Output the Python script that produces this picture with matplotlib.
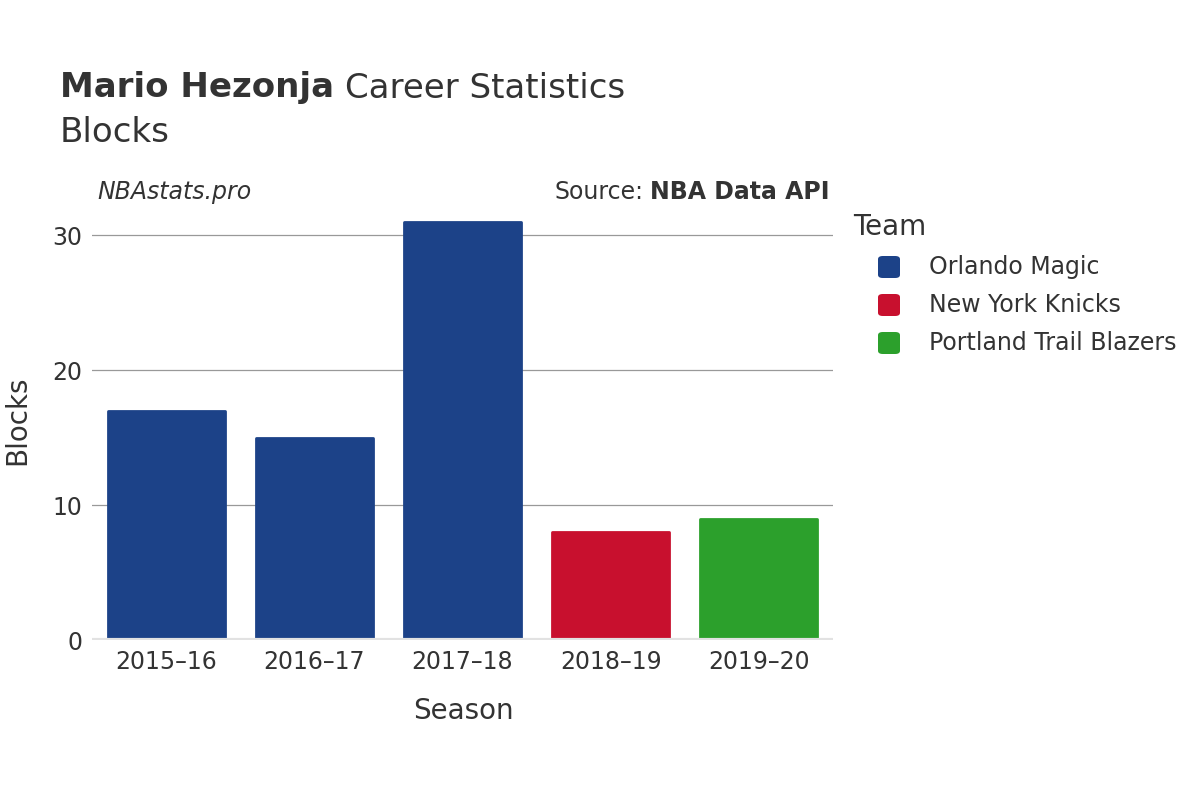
import matplotlib.pyplot as plt
from matplotlib.patches import FancyBboxPatch

seasons = ["2015\u201316", "2016\u201317", "2017\u201318", "2018\u201319", "2019\u201320"]
blocks = [17, 15, 31, 8, 9]
teams = ["Orlando Magic", "Orlando Magic", "Orlando Magic", "New York Knicks", "Portland Trail Blazers"]
team_order = ["Orlando Magic", "New York Knicks", "Portland Trail Blazers"]
team_colors = {"Orlando Magic": "#1C4288", "New York Knicks": "#C8102E",
               "Portland Trail Blazers": "#2CA02C"}

text_color = "#333333"
plt.rcParams['font.family'] = ['DejaVu Sans']

W, H = 1200, 800
fig = plt.figure(figsize=(12, 8), dpi=100)
ax = fig.add_axes([92 / W, 0.2, (833 - 92) / W, 0.55])

x = list(range(len(seasons)))
ax.bar(x, blocks, width=0.79, color=[team_colors[t] for t in teams],
       edgecolor=[team_colors[t] for t in teams], linewidth=2, joinstyle="round", zorder=3)

ax.set_xlim(-0.5, 4.5)
ax.set_ylim(0, 32.6)
ax.set_yticks([0, 10, 20, 30])
ax.set_xticks(x)
ax.set_xticklabels(seasons)
ax.tick_params(axis="both", length=0, labelsize=17, colors=text_color, pad=7)
ax.grid(axis="y", color="#999999", linewidth=0.9, zorder=0)
ax.axhline(0, color="#e2e2e2", linewidth=3, zorder=4)
for s in ax.spines.values():
    s.set_visible(False)

fig.text(463 / W, 1 - 711 / H, "Season", fontsize=20, color=text_color, ha="center", va="center")
fig.text(17 / W, 1 - 420 / H, "Blocks", fontsize=20, color=text_color, ha="center", va="center",
         rotation=90)

# Title
t1 = fig.text(60 / W, 1 - 88 / H, "Mario Hezonja", fontsize=24.5, fontweight="bold",
              color=text_color, va="center")
fig.canvas.draw()
bb = t1.get_window_extent(renderer=fig.canvas.get_renderer())
fig.text(bb.x1 / W + 0.009, 1 - 88 / H, "Career Statistics", fontsize=24.5,
         color=text_color, va="center")
fig.text(60 / W, 1 - 132 / H, "Blocks", fontsize=24.5, color=text_color, va="center")

fig.text(97 / W, 1 - 192 / H, "NBAstats.pro", fontsize=17, style="italic",
         color=text_color, va="center")
s2 = fig.text(830 / W, 1 - 192 / H, "NBA Data API", fontsize=17, fontweight="bold",
              color=text_color, va="center", ha="right")
fig.canvas.draw()
bb2 = s2.get_window_extent(renderer=fig.canvas.get_renderer())
fig.text(bb2.x0 / W - 0.006, 1 - 192 / H, "Source:", fontsize=17,
         color=text_color, va="center", ha="right")

# Legend
fig.text(853 / W, 1 - 227 / H, "Team", fontsize=20, color=text_color, va="center")
for i, t in enumerate(team_order):
    yc = 267 + 38 * i
    box = FancyBboxPatch((878 / W, 1 - (yc + 11) / H), 22 / W, 22 / H,
                         boxstyle="round,pad=0,rounding_size=0.004",
                         transform=fig.transFigure, facecolor=team_colors[t],
                         edgecolor="none")
    fig.patches.append(box)
    fig.text(929 / W, 1 - yc / H, t, fontsize=17, color=text_color, va="center")

fig.savefig("out.png", dpi=100)
